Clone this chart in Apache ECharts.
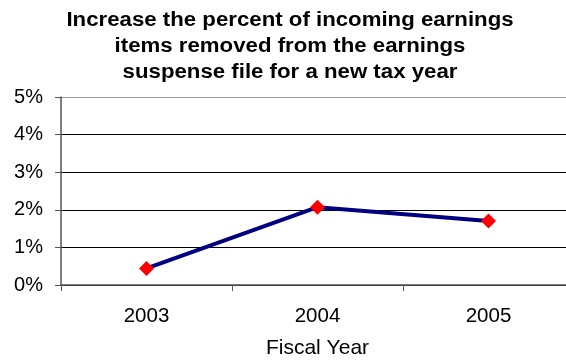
<!DOCTYPE html>
<html>
<head>
<meta charset="utf-8">
<script src="https://cdn.jsdelivr.net/npm/echarts@6/dist/echarts.min.js"></script>
<style>html,body{margin:0;padding:0;background:#fff;}#c{width:566px;height:362px;}</style>
</head>
<body>
<div id="c"></div>
<script>
var categories = ['2003', '2004', '2005'];
var values = [0.44, 2.07, 1.70];
var yTicks = [0, 1, 2, 3, 4, 5];
var titleText = 'Increase the percent of incoming earnings\nitems removed from the earnings\nsuspense file for a new tax year';

var FONT = 'Liberation Sans, Arial, sans-serif';
var chart = echarts.init(document.getElementById('c'), null, {renderer: 'canvas'});
chart.setOption({
  animation: false,
  backgroundColor: '#fff',
  graphic: [{
    type: 'text',
    x: 290,
    y: 8,
    scaleX: 1.14,
    style: {
      text: titleText,
      fontFamily: FONT,
      fontWeight: 'bold',
      fontSize: 19.5,
      lineHeight: 26,
      fill: '#000',
      textAlign: 'center',
      textVerticalAlign: 'top'
    }
  }],
  grid: {left: 61, right: -8, top: 97, bottom: 77, containLabel: false, outerBoundsMode: 'none'},
  xAxis: {
    type: 'category',
    data: categories,
    boundaryGap: true,
    name: 'Fiscal Year',
    nameLocation: 'middle',
    nameGap: 53,
    nameTextStyle: {fontFamily: FONT, fontSize: 21, color: '#000'},
    axisLine: {show: true, lineStyle: {color: '#555', width: 1.5}},
    axisTick: {show: true, inside: false, length: 6, lineStyle: {color: '#555'}},
    axisLabel: {fontFamily: FONT, fontSize: 20.5, color: '#000', margin: 21},
    splitLine: {show: false}
  },
  yAxis: {
    type: 'value',
    min: yTicks[0],
    max: yTicks[yTicks.length - 1],
    interval: 1,
    axisLine: {show: true, lineStyle: {color: '#555', width: 1.5}},
    axisTick: {show: true, inside: false, length: 6, lineStyle: {color: '#555'}},
    axisLabel: {fontFamily: FONT, fontSize: 20, color: '#000', margin: 18, formatter: '{value}%'},
    splitLine: {show: true, lineStyle: {color: ['#000', '#000', '#000', '#000', '#000', '#999'], width: 1}}
  },
  series: [{
    type: 'line',
    data: values,
    symbol: 'diamond',
    symbolSize: 15,
    itemStyle: {color: '#ff0000'},
    lineStyle: {color: '#000080', width: 4},
    z: 3
  }]
});
</script>
</body>
</html>
